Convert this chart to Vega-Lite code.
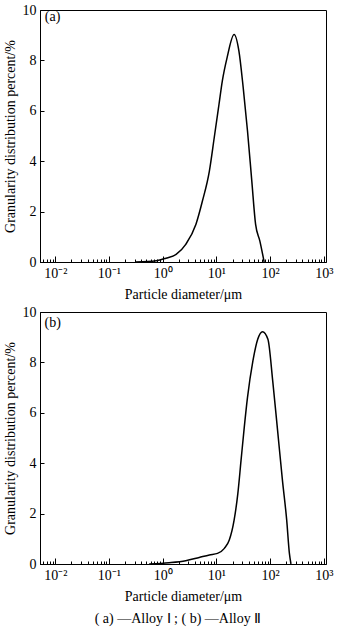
{
  "$schema": "https://vega.github.io/schema/vega-lite/v6.json",
  "background": "white",
  "padding": {"left": 2, "top": 2, "right": 8, "bottom": 2},
  "spacing": 2,
  "config": {
    "font": "Liberation Serif",
    "view": {"stroke": "black", "strokeWidth": 1},
    "axis": {
      "domainColor": "black", "tickColor": "black", "labelColor": "black", "titleColor": "black",
      "labelFont": "Liberation Serif", "titleFont": "Liberation Serif",
      "labelFontSize": 14, "titleFontSize": 14, "titleFontWeight": "normal", "grid": false
    },
    "title": {"font": "Liberation Serif", "fontWeight": "normal", "color": "black"}
  },
  "title": {"text": "( a) —Alloy  Ⅰ ;  ( b) —Alloy  Ⅱ", "orient": "bottom", "fontSize": 14, "anchor": "middle", "offset": 8, "dx": 10},
  "datasets": {
    "a": [
      {"d": 0.316, "p": 0}, {"d": 0.76, "p": 0.05}, {"d": 1.15, "p": 0.15}, {"d": 1.78, "p": 0.3},
      {"d": 2.69, "p": 0.7}, {"d": 4.17, "p": 1.5}, {"d": 5.5, "p": 2.42}, {"d": 7.41, "p": 3.61},
      {"d": 9.12, "p": 4.93}, {"d": 11.2, "p": 6.26}, {"d": 12.9, "p": 7.18}, {"d": 15.8, "p": 8.1},
      {"d": 21.4, "p": 9.03}, {"d": 26.3, "p": 8.37}, {"d": 31.6, "p": 6.92}, {"d": 38.0, "p": 5.2},
      {"d": 45.7, "p": 3.21}, {"d": 53.7, "p": 1.5}, {"d": 64.6, "p": 0.83}, {"d": 77.6, "p": 0}
    ],
    "b": [
      {"d": 0.56, "p": 0}, {"d": 1.32, "p": 0.05}, {"d": 2.69, "p": 0.13}, {"d": 4.79, "p": 0.26},
      {"d": 7.41, "p": 0.36}, {"d": 10.5, "p": 0.42}, {"d": 14.1, "p": 0.62}, {"d": 17.4, "p": 0.95},
      {"d": 21.4, "p": 1.74}, {"d": 25.1, "p": 2.79}, {"d": 28.8, "p": 4.11}, {"d": 33.1, "p": 5.43},
      {"d": 38.0, "p": 6.61}, {"d": 47.9, "p": 8.06}, {"d": 58.9, "p": 8.92}, {"d": 72.4, "p": 9.22},
      {"d": 91.2, "p": 8.92}, {"d": 112, "p": 7.27}, {"d": 138, "p": 5.3}, {"d": 170, "p": 3.32},
      {"d": 204, "p": 1.74}, {"d": 229, "p": 0.42}, {"d": 245, "p": 0}
    ],
    "la": [{"d": 0.0064, "p": 9.72, "t": "(a)"}],
    "lb": [{"d": 0.0063, "p": 9.56, "t": "(b)"}]
  },
  "vconcat": [
    {
      "width": 286, "height": 252,
      "layer": [
        {
          "data": {"name": "a"},
          "mark": {"type": "line", "color": "black", "strokeWidth": 1.5, "interpolate": "monotone"},
          "encoding": {
            "x": {"field": "d", "type": "quantitative",
              "scale": {"type": "log", "domain": [0.0052, 1100], "nice": false},
              "axis": {
                "title": "Particle diameter/μm", "titlePadding": 4,
                "values": [0.006,0.007,0.008,0.009,0.01,0.02,0.03,0.04,0.05,0.06,0.07,0.08,0.09,0.1,0.2,0.3,0.4,0.5,0.6,0.7,0.8,0.9,1,2,3,4,5,6,7,8,9,10,20,30,40,50,60,70,80,90,100,200,300,400,500,600,700,800,900,1000],
                "labelExpr": "abs(log(datum.value)/LN10 - round(log(datum.value)/LN10)) < 1e-6 ? ['10⁻²','10⁻¹','10⁰','10¹','10²','10³'][round(log(datum.value)/LN10)+2] : ''",
                "tickSize": {"condition": {"test": "abs(log(datum.value)/LN10 - round(log(datum.value)/LN10)) < 1e-6", "value": -6}, "value": -3},
                "labelPadding": 10, "labelFlush": false, "labelOverlap": false
              }
            },
            "y": {"field": "p", "type": "quantitative",
              "scale": {"domain": [0, 10], "nice": false},
              "axis": {"title": "Granularity distribution percent/%", "values": [0,2,4,6,8,10], "tickSize": -4, "labelPadding": 8, "titlePadding": 5}
            }
          }
        },
        {
          "data": {"name": "la"},
          "mark": {"type": "text", "align": "left", "baseline": "middle", "fontSize": 14, "font": "Liberation Serif", "color": "black"},
          "encoding": {
            "x": {"field": "d", "type": "quantitative"},
            "y": {"field": "p", "type": "quantitative"},
            "text": {"field": "t"}
          }
        }
      ]
    },
    {
      "width": 286, "height": 252,
      "layer": [
        {
          "data": {"name": "b"},
          "mark": {"type": "line", "color": "black", "strokeWidth": 1.5, "interpolate": "monotone"},
          "encoding": {
            "x": {"field": "d", "type": "quantitative",
              "scale": {"type": "log", "domain": [0.0052, 1100], "nice": false},
              "axis": {
                "title": "Particle diameter/μm", "titlePadding": 4,
                "values": [0.006,0.007,0.008,0.009,0.01,0.02,0.03,0.04,0.05,0.06,0.07,0.08,0.09,0.1,0.2,0.3,0.4,0.5,0.6,0.7,0.8,0.9,1,2,3,4,5,6,7,8,9,10,20,30,40,50,60,70,80,90,100,200,300,400,500,600,700,800,900,1000],
                "labelExpr": "abs(log(datum.value)/LN10 - round(log(datum.value)/LN10)) < 1e-6 ? ['10⁻²','10⁻¹','10⁰','10¹','10²','10³'][round(log(datum.value)/LN10)+2] : ''",
                "tickSize": {"condition": {"test": "abs(log(datum.value)/LN10 - round(log(datum.value)/LN10)) < 1e-6", "value": -6}, "value": -3},
                "labelPadding": 10, "labelFlush": false, "labelOverlap": false
              }
            },
            "y": {"field": "p", "type": "quantitative",
              "scale": {"domain": [0, 10], "nice": false},
              "axis": {"title": "Granularity distribution percent/%", "values": [0,2,4,6,8,10], "tickSize": -4, "labelPadding": 8, "titlePadding": 5}
            }
          }
        },
        {
          "data": {"name": "lb"},
          "mark": {"type": "text", "align": "left", "baseline": "middle", "fontSize": 14, "font": "Liberation Serif", "color": "black"},
          "encoding": {
            "x": {"field": "d", "type": "quantitative"},
            "y": {"field": "p", "type": "quantitative"},
            "text": {"field": "t"}
          }
        }
      ]
    }
  ]
}
